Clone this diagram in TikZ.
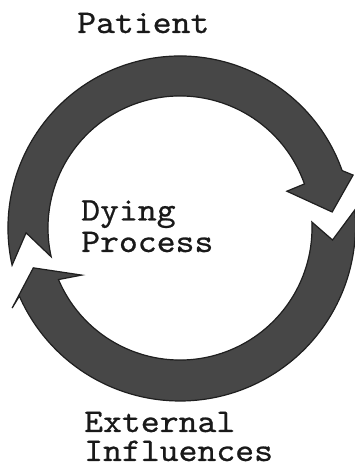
\documentclass[tikz,border=0pt]{standalone}
\usepackage{fontspec}
\newfontfamily\typewriter[FakeBold=0.7,FakeStretch=1.09]{lmmono10-regular.otf}
\usetikzlibrary{calc}
\begin{document}
\begin{tikzpicture}[x=1pt,y=1pt,
  arrowband/.style={fill=black!72,draw=black!88,line width=1.2pt,line join=miter},
  lbl/.style={anchor=base west,inner sep=0pt,align=left,text=black!90}]
\useasboundingbox (0,0) rectangle (355,468);
\coordinate (C) at (180,240);
% top arrow (Patient side), tail at left, head at right
\filldraw[arrowband]
  ($(C)+(192.5:172)$) arc[start angle=192.5,end angle=19.5,radius=172]
  -- ($(C)+(17:181)$) -- ($(C)+(6:153)$) -- ($(C)+(19:113)$)
  -- ($(C)+(19.5:132)$) arc[start angle=19.5,end angle=192.6,radius=132]
  -- ($(C)+(181.8:154)$) -- cycle;
% bottom arrow (External Influences side), tail at right, head at left
\filldraw[arrowband]
  ($(C)+(5.9:175)$)
  plot[domain=5.9:-157,samples=60,smooth] ({180+(173+2.5*(1+sin(\x)))*cos(\x)},{240+(173+2.5*(1+sin(\x)))*sin(\x)})
  -- ($(C)+(-154.5:186)$) -- ($(C)+(-164.8:152)$) -- ($(C)+(-154.4:109)$)
  -- ($(C)+(-157:132)$) arc[start angle=-157,end angle=2.6,radius=132]
  -- ($(C)+(-4.5:153)$) -- cycle;
\node[lbl,font=\typewriter\fontsize{33}{33}\selectfont] (patient) at (77,435) {Patient};
\node[lbl,font=\typewriter\fontsize{33}{31.5}\selectfont] (dying) at (81,216) {Dying\\Process};
\node[lbl,font=\typewriter\fontsize{33}{29}\selectfont] (external) at (84,7) {External\\Influences};
\end{tikzpicture}
\end{document}
